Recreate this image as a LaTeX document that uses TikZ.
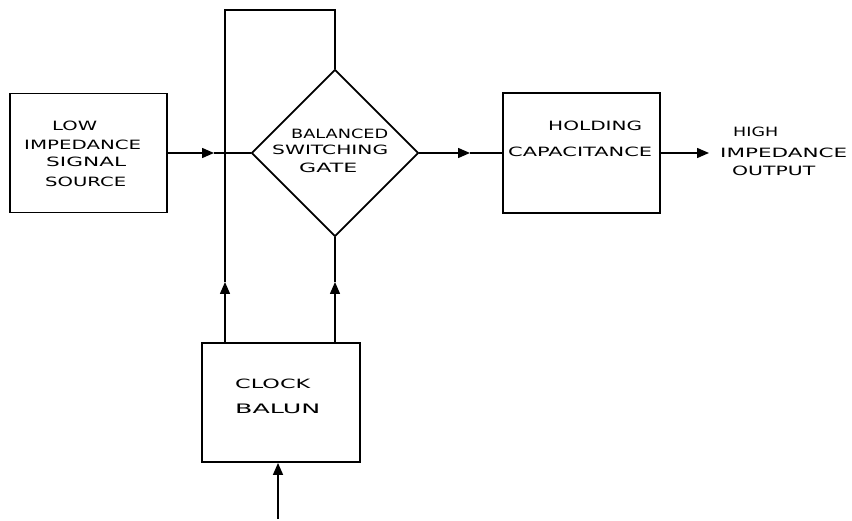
\documentclass[tikz,border=0pt]{standalone}
\usepackage{fontspec}
\usepackage{graphicx}
\setmainfont{DejaVu Sans}
\usetikzlibrary{shapes.geometric,arrows.meta}
\newcommand{\handtext}[2]{\resizebox{#1bp}{9.5bp}{#2}}
\begin{document}
\begin{tikzpicture}[x=1bp,y=-1bp,
  blk/.style={draw,line width=1.9bp,inner sep=0,rectangle},
  gatebox/.style={draw,line width=1.9bp,inner sep=0,diamond,aspect=1,minimum width=167bp,minimum height=167bp},
  wire/.style={line width=1.5bp},
  arr/.style={wire,-{Triangle[length=12bp,width=10bp]}},
  lbl/.style={anchor=base west,inner sep=0}]
\useasboundingbox (0,0) rectangle (852,521);
% blocks
\node[blk,minimum width=157bp,minimum height=119bp] (src) at (88.5,153) {};
\node[gatebox] (gate) at (335,153) {};
\node[blk,minimum width=157bp,minimum height=120bp] (hold) at (581.5,153) {};
\node[blk,minimum width=158bp,minimum height=119bp] (balun) at (281,402.5) {};
% texts
\node[lbl] (s1) at (52,131) {\handtext{45}{LOW}};
\node[lbl] (s2) at (24,150) {\handtext{117}{IMPEDANCE}};
\node[lbl] (s3) at (46,167) {\handtext{80}{SIGNAL}};
\node[lbl] (s4) at (45,187) {\handtext{81}{SOURCE}};
\node[lbl] (g1) at (291,139) {\handtext{97}{BALANCED}};
\node[lbl] (g2) at (272,155) {\handtext{116}{SWITCHING}};
\node[lbl] (g3) at (299,173) {\handtext{58}{GATE}};
\node[lbl] (h1) at (548,131) {\handtext{94}{HOLDING}};
\node[lbl] (h2) at (508,157) {\handtext{144}{CAPACITANCE}};
\node[lbl] (b1) at (235,388) {\handtext{75}{CLOCK}};
\node[lbl] (b2) at (235,413) {\handtext{85}{BALUN}};
\node[lbl] (o1) at (733,137) {\handtext{45}{HIGH}};
\node[lbl] (o2) at (720,158) {\handtext{127}{IMPEDANCE}};
\node[lbl] (o3) at (732,176) {\handtext{83}{OUTPUT}};
% coordinates
\coordinate (a1) at (214,153);
\coordinate (a2) at (470,153);
\coordinate (a3) at (709,153);
\coordinate (la) at (225,282);
\coordinate (ra) at (335,282);
\coordinate (lt) at (225,10);
\coordinate (rt) at (335,10);
\coordinate (inp) at (278,519);
% connectors
\draw[arr] (src.east) -- (a1);
\draw[wire] (a1) -- (gate.west);
\draw[arr] (gate.east) -- (a2);
\draw[wire] (a2) -- (hold.west);
\draw[arr] (hold.east) -- (a3);
\draw[arr] (balun.north -| lt) -- (la);
\draw[wire] (la) -- (lt) -- (rt) -- (gate.north);
\draw[arr] (balun.north -| ra) -- (ra);
\draw[wire] (ra) -- (gate.south);
\draw[arr] (inp) -- (inp |- balun.south);
\end{tikzpicture}
\end{document}
